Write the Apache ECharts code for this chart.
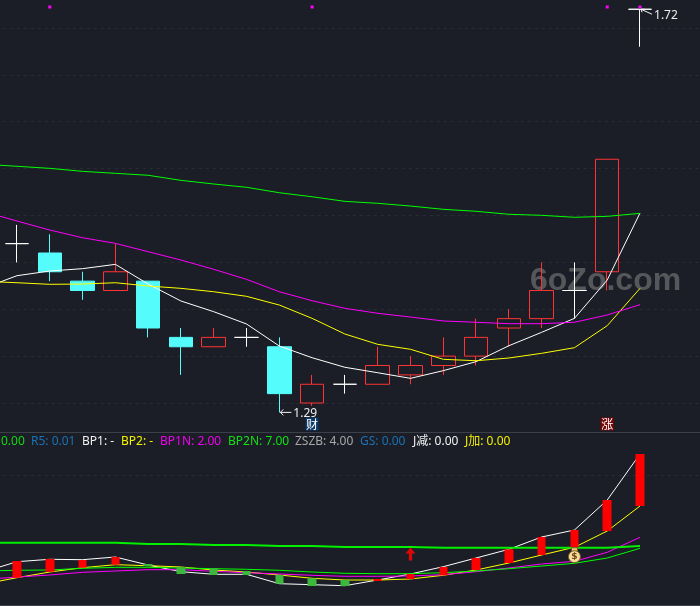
<!DOCTYPE html>
<html><head><meta charset="utf-8">
<style>html,body{margin:0;padding:0;background:#1b1e26;overflow:hidden}#c{width:700px;height:606px}</style>
<script src="https://cdn.jsdelivr.net/npm/echarts@6/dist/echarts.min.js"></script>
</head><body><div id="c"></div>
<script>
// session 0 is the partly visible session before the first drawn candle; the last three are empty
const categories = Array.from({length: 24}, (_, i) => 'K' + i);

// candle values (sessions 1..20)
const opens  = [1.47,1.46,1.43,1.42,1.43,1.37,1.36,1.37,1.36,1.30,1.32,1.32,1.33,1.34,1.35,1.38,1.39,1.42,1.44,1.72];
const closes = [1.47,1.44,1.42,1.44,1.38,1.36,1.37,1.37,1.31,1.32,1.32,1.34,1.34,1.35,1.37,1.39,1.42,1.42,1.56,1.72];
const lows   = [1.45,1.43,1.41,1.42,1.37,1.33,1.36,1.36,1.29,1.297,1.31,1.32,1.32,1.33,1.34,1.36,1.38,1.39,1.42,1.68];
const highs  = [1.49,1.48,1.44,1.47,1.43,1.38,1.38,1.38,1.37,1.33,1.33,1.36,1.35,1.37,1.39,1.40,1.45,1.45,1.56,1.72];

// moving averages (sessions 0..20)
const maWhite   = [1.4227,1.4358,1.4408,1.4433,1.4479,1.4269,1.4088,1.3974,1.3843,1.3608,1.3483,1.3381,1.3323,1.3263,1.3345,1.3441,1.3611,1.3754,1.3903,1.4312,1.5027];
const maYellow  = [1.4297,1.4283,1.4266,1.4269,1.4283,1.4248,1.4223,1.4187,1.4138,1.4045,1.3903,1.3736,1.3626,1.3573,1.3466,1.3451,1.348,1.353,1.359,1.3825,1.4223];
const maMagenta = [1.504,1.4941,1.4845,1.4763,1.4703,1.4614,1.4525,1.4426,1.4319,1.4187,1.4091,1.401,1.3957,1.3917,1.3875,1.3861,1.3846,1.3846,1.3861,1.3939,1.4049];
const maGreen   = [1.5546,1.5525,1.5503,1.5471,1.545,1.5429,1.5375,1.5336,1.5301,1.5243,1.52,1.5151,1.513,1.5101,1.5066,1.5045,1.5013,1.5002,1.4981,1.4991,1.5023];

// markers
const topMarkers = [[2,1.7224],[10,1.7224],[19,1.7224],[20,1.7224]];
const extremes = [[9,1.29,'1.29'],[20,1.72,'1.72']];
const badges = [[10,1.2776,'财','#0c3a68'],[19,1.2776,'涨','#760606']];

// lower panel (sessions 1..20 for the bars, 0..20 for the lines)
const barStart = [2.73,3.33,3.73,4.03,4.1,3.8,3.67,3.4,3.0,2.67,2.5,2.4,2.6,2.97,3.5,4.2,5.0,5.77,7.4,9.9];
const barEnd   = [4.4,4.6,4.5,4.8,3.9,3.1,3.0,3.0,2.13,1.9,1.9,2.6,3.1,3.8,4.7,5.57,6.8,7.5,10.5,15.1];
const lowWhite   = [3.33,4.33,4.57,4.53,4.8,4.0,3.33,3.07,3.07,2.13,2.03,1.93,2.5,3.1,3.83,4.7,5.57,6.8,7.5,10.5,15.1];
const lowYellow  = [2.1,2.73,3.3,3.73,4.03,3.93,3.8,3.5,3.3,3.0,2.67,2.5,2.5,2.6,2.97,3.5,4.2,5.0,5.77,7.4,9.9];
const lowMagenta = [2.55,2.8,3.0,3.27,3.4,3.53,3.53,3.37,3.23,3.1,2.97,2.87,2.87,2.9,3.03,3.33,3.7,4.1,4.37,5.27,6.77];
const lowGreen   = [3.4,3.47,3.5,3.67,3.77,3.77,3.7,3.63,3.57,3.47,3.3,3.17,3.13,3.13,3.23,3.4,3.63,3.9,4.17,4.7,5.67];
const lowThick   = [6.23,6.23,6.23,6.23,6.1,6.1,6.0,6.0,5.9,5.9,5.8,5.8,5.8,5.73,5.73,5.73,5.73,5.73,5.73,5.9,5.9];
const upArrow = [[13,5.1]];
const moneyBag = [[18,4.83]];

// header row
const headerItems = [
  ['0.00',1,'#12d812'],['R5: 0.01',31,'#1a72b4'],['BP1: -',82,'#f2f2f2'],['BP2: -',121,'#f5f500'],
  ['BP1N: 2.00',160,'#f000f0'],['BP2N: 7.00',228,'#12e012'],['ZSZB: 4.00',295,'#a8a8a8'],
  ['GS: 0.00',360,'#1a72b4'],['J减: 0.00',413,'#f2f2f2'],['J加: 0.00',465,'#f0f000']
];

const BG = '#1b1e26', RED = '#ff3333', CYAN = '#54fcfc', GRID = '#292c34', FONT = '"Noto Sans","Noto Sans CJK SC",sans-serif';

const candleData = [['-','-','-','-']].concat(opens.map((o, i) => {
  const c = closes[i], doji = o === c;
  const col = doji ? '#ffffff' : (c > o ? RED : CYAN);
  return { value: [o, c, lows[i], highs[i]], itemStyle: {
    color: c > o ? 'transparent' : col, color0: c > o ? 'transparent' : col,
    borderColor: col, borderColor0: col, borderColorDoji: col, borderWidth: 1 } };
}));
const barData = [['-','-','-','-']].concat(barStart.map((s, i) => {
  const e = barEnd[i], col = e > s ? '#ff0000' : '#3cb83c';
  return { value: [s, e, Math.min(s, e), Math.max(s, e)], itemStyle: { color: col, color0: col, borderColor: col, borderColor0: col, borderWidth: 0 } };
}));

const line = (name, data, color, idx, w) => ({
  name, type: 'line', data, xAxisIndex: idx, yAxisIndex: idx, symbol: 'none', clip: false, z: 4,
  lineStyle: { color, width: w || 1 }, silent: true
});

const xAxisBase = { type: 'category', data: categories, boundaryGap: true, axisTick: { show: false }, axisLabel: { show: false } };

const option = {
  backgroundColor: BG, animation: false,
  grid: [
    { left: -32.2, width: 787, top: 28, height: 375, outerBoundsMode: 'none' },
    { left: -32.2, width: 787, top: 475, height: 130, outerBoundsMode: 'none' }
  ],
  xAxis: [
    Object.assign({ gridIndex: 0, axisLine: { show: false } }, xAxisBase),
    Object.assign({ gridIndex: 1, axisLine: { show: true, lineStyle: { color: '#3c4049', width: 1 } } }, xAxisBase)
  ],
  yAxis: [
    { type: 'value', gridIndex: 0, min: 1.30, max: 1.70, interval: 0.05, axisLine: { show: false }, axisTick: { show: false }, axisLabel: { show: false },
      splitLine: { show: true, lineStyle: { color: GRID, type: [3, 4], width: 1 } } },
    { type: 'value', gridIndex: 1, min: 0, max: 13, interval: 13, axisLine: { show: false }, axisTick: { show: false }, axisLabel: { show: false },
      splitLine: { show: true, lineStyle: { color: GRID, type: [3, 4], width: 1 } } }
  ],
  series: [
    { type: 'candlestick', name: 'K', data: candleData, xAxisIndex: 0, yAxisIndex: 0, barWidth: 24, clip: false, z: 2, silent: true },
    line('MA white', maWhite, '#ffffff', 0),
    line('MA yellow', maYellow, '#ffff00', 0),
    line('MA magenta', maMagenta, '#ff00ff', 0),
    line('MA green', maGreen, '#00ff00', 0),
    { type: 'scatter', name: 'marks', data: topMarkers, xAxisIndex: 0, yAxisIndex: 0, symbol: 'rect', symbolSize: 3, clip: false, z: 6, itemStyle: { color: '#ff00ff', opacity: 1 }, silent: true },
    { type: 'custom', name: 'extremes', data: extremes, xAxisIndex: 0, yAxisIndex: 0, clip: false, z: 7, silent: true,
      renderItem: (p, api) => {
        const pt = api.coord([api.value(0), api.value(1)]);
        const up = api.value(1) > 1.5, t = String(extremes[p.dataIndex][2]);
        const x = pt[0] + 1, y = pt[1];
        const ex = x + 11, ey = up ? y + 5 : y;
        const stroke = { stroke: '#f4f4f4', lineWidth: 1, fill: 'none' };
        return { type: 'group', children: [
          { type: 'polyline', shape: { points: [[x, y], [ex, ey]] }, style: stroke },
          { type: 'polyline', shape: { points: up ? [[x + 4, y], [x, y], [x + 1, y + 3]] : [[x + 3, y - 3], [x, y], [x + 3, y + 3]] }, style: stroke },
          { type: 'text', style: { text: t, x: ex + 2, y: ey + 1, fill: '#eeeeee', font: '12px ' + FONT, verticalAlign: 'middle', align: 'left' } }
        ] };
      } },
    { type: 'custom', name: 'badges', data: badges, xAxisIndex: 0, yAxisIndex: 0, clip: false, z: 7, silent: true,
      renderItem: (p, api) => {
        const pt = api.coord([api.value(0), api.value(1)]), b = badges[p.dataIndex];
        return { type: 'group', children: [
          { type: 'rect', shape: { x: pt[0] - 6.5, y: pt[1] - 6.5, width: 13, height: 13 }, style: { fill: b[3] } },
          { type: 'text', style: { text: b[2], x: pt[0], y: pt[1], fill: '#ffffff', font: '12px "Noto Sans CJK SC"', align: 'center', verticalAlign: 'middle' } }
        ] };
      } },
    line('low white', lowWhite, '#ffffff', 1),
    line('low yellow', lowYellow, '#ffff00', 1),
    line('low magenta', lowMagenta, '#ff00ff', 1),
    line('low green', lowGreen, '#00ff00', 1),
    Object.assign(line('low thick', lowThick, '#00f000', 1, 2), { step: 'end', z: 5 }),
    { type: 'candlestick', name: 'bars', data: barData, xAxisIndex: 1, yAxisIndex: 1, barWidth: 9, clip: false, z: 6, silent: true },
    { type: 'scatter', name: 'up arrow', data: upArrow, xAxisIndex: 1, yAxisIndex: 1, clip: false, z: 7, silent: true,
      symbol: 'path://M6 0 L12 6 L8 6 L8 13 L4 13 L4 6 L0 6 Z', symbolSize: [10, 13], symbolKeepAspect: false, itemStyle: { color: '#d80808', opacity: 1 } },
    { type: 'custom', name: 'money bag', data: moneyBag, xAxisIndex: 1, yAxisIndex: 1, clip: false, z: 8, silent: true,
      renderItem: (p, api) => {
        const pt = api.coord([api.value(0), api.value(1)]);
        return { type: 'group', children: [
          { type: 'rect', shape: { x: pt[0] - 3, y: pt[1] - 9, width: 6, height: 4 }, style: { fill: '#e8c877', stroke: '#7a5a20', lineWidth: 1 } },
          { type: 'circle', shape: { cx: pt[0], cy: pt[1], r: 6 }, style: { fill: '#f6dc9a', stroke: '#7a5a20', lineWidth: 1 } },
          { type: 'text', style: { text: '$', x: pt[0], y: pt[1], fill: '#6b4312', font: 'bold 9px "DejaVu Sans"', align: 'center', verticalAlign: 'middle' } }
        ] };
      } }
  ],
  graphic: [
    { type: 'line', z: 10, silent: true, shape: { x1: 0, y1: 432.5, x2: 700, y2: 432.5 }, style: { stroke: '#3c4049', lineWidth: 1 } },
    { type: 'text', z: 1, silent: true, x: 530, y: 265, style: { text: '6oZo.com', fill: 'rgba(125,125,125,0.6)', font: 'bold 32px "Liberation Sans"' } }
  ].concat(headerItems.map(h => ({ type: 'text', z: 10, silent: true, x: h[1], y: 442, style: { text: h[0], fill: h[2], font: '12px ' + FONT, verticalAlign: 'middle' } })))
};
const chart = echarts.init(document.getElementById('c'), null, { renderer: 'canvas' });
chart.setOption(option);
</script></body></html>
